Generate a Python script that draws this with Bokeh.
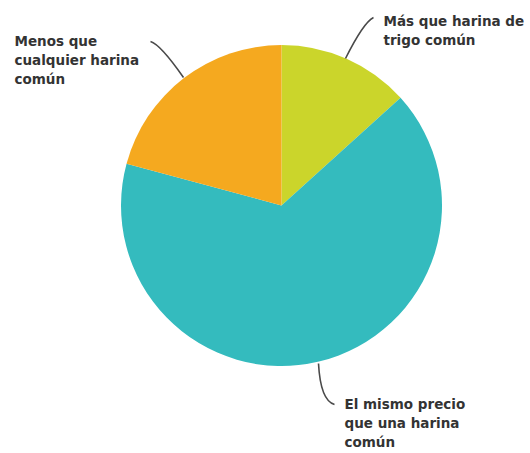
import numpy as np
from bokeh.plotting import figure
from bokeh.models import Range1d, ColumnDataSource
from bokeh.core.properties import value
from bokeh.embed import file_html
from bokeh.resources import INLINE

# Data (clockwise from 12 o'clock)
categories = ["Más que harina de trigo común",
              "El mismo precio que una harina común",
              "Menos que cualquier harina común"]
shares = [13.3, 65.9, 20.8]
colors = ["#CBD52B", "#34BBBE", "#F5A91F"]

W, H = 530, 453
cx, cy, r = 281, H - 205, 160.5

p = figure(width=W, height=H, output_backend="svg", toolbar_location=None,
           x_axis_location=None, y_axis_location=None, min_border=0,
           x_range=Range1d(0, W), y_range=Range1d(0, H))
p.outline_line_color = None
p.grid.visible = False
p.background_fill_color = "white"

vals = np.array(shares, dtype=float)
frac = vals / vals.sum()
ends = np.cumsum(frac) * 2 * np.pi
starts = np.concatenate([[0], ends[:-1]])
src = ColumnDataSource(dict(
    start=np.pi / 2 - starts, end=np.pi / 2 - ends,
    color=colors, cat=categories))
p.wedge(x=cx, y=cy, radius=r, start_angle="start", end_angle="end",
        direction="clock", fill_color="color", line_color=None, source=src)

# Leader lines (pixel coords from top)
leaders = [
    ((345, 58), (363, 22), (373, 17)),   # Más que
    ((318, 363), (320, 400), (334, 404)),  # El mismo
    ((183, 77), (160, 44), (150, 41)),   # Menos que
]
for (a, c, b) in leaders:
    p.quadratic(x0=a[0], y0=H - a[1], x1=b[0], y1=H - b[1],
                cx=c[0], cy=H - c[1], line_color="#4a4a4a", line_width=1.6)

# Labels (lines, left x, first line center y in pixels from top)
label_lines = [
    (["Más que harina de", "trigo común"], 383, 20),
    (["El mismo precio", "que una harina", "común"], 344, 403),
    (["Menos que", "cualquier harina", "común"], 14, 40),
]
lh = 19.3
for lines, x, y0 in label_lines:
    xs = [x] * len(lines)
    ys = [H - (y0 + i * lh) for i in range(len(lines))]
    p.text(x=xs, y=ys, text=lines, text_font=value("DejaVu Sans"),
           text_font_style="bold", text_font_size="13.5px",
           text_color="#333333", text_baseline="middle", text_align="left")

open("out.html", "w").write(file_html(p, INLINE))
